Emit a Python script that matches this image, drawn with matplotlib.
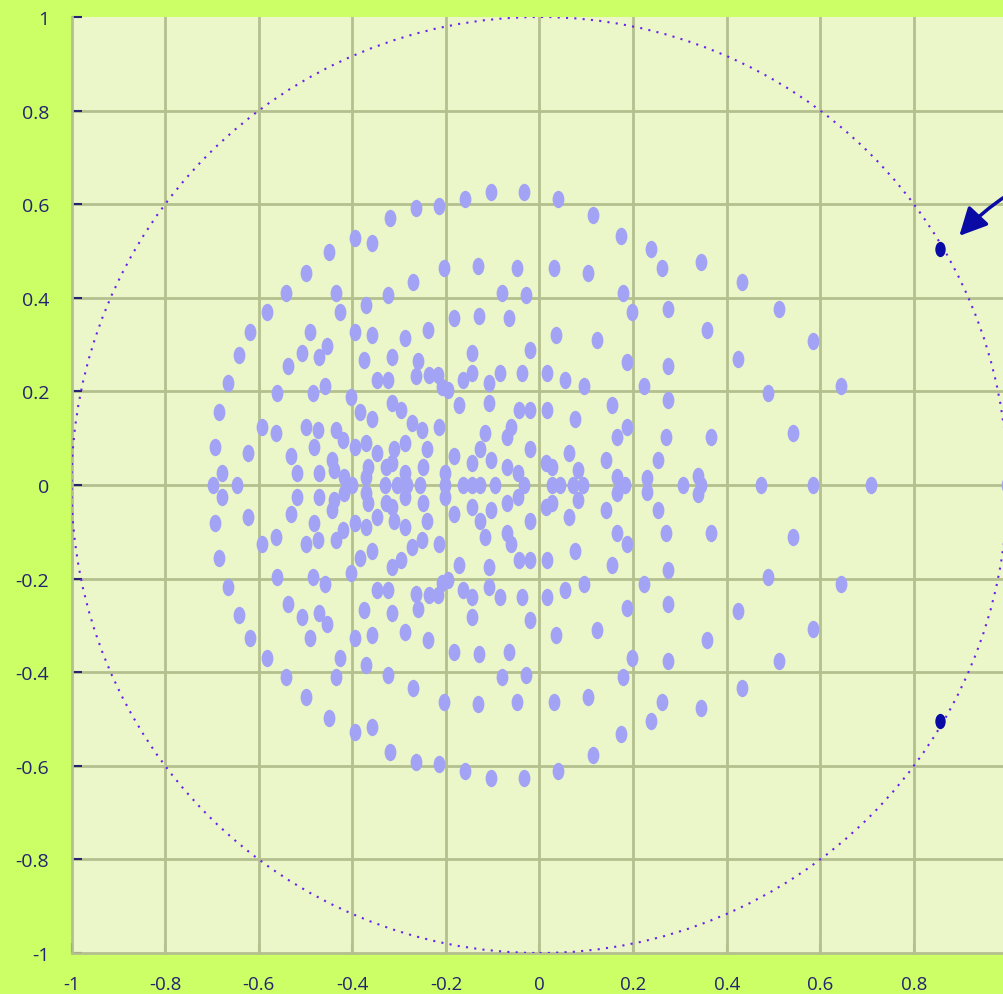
#!/usr/bin/env python3
"""
Pole/zero style scatter inside the unit circle.
"""

import matplotlib
matplotlib.use("Agg")
import matplotlib.pyplot as plt
import matplotlib.patches as mpatches
from matplotlib.path import Path
from matplotlib.transforms import Affine2D
import numpy as np

# Roots in the upper half plane (the lower half is the complex conjugate)
upper_re = [
    -0.159, -0.215, -0.264, -0.319, -0.394, -0.358, -0.450, -0.499, -0.542, -0.582,
    -0.619, -0.204, -0.131, -0.270, -0.324, -0.371, -0.435, -0.426, -0.183, -0.129,
    -0.238, -0.287, -0.358, -0.394, -0.490, -0.454, -0.507, -0.471, -0.537, -0.642,
    -0.666, -0.375, -0.315, -0.260, -0.264, -0.236, -0.217, -0.208, -0.196, -0.144,
    -0.144, -0.163, -0.172, -0.347, -0.324, -0.561, -0.484, -0.458, -0.403, -0.315,
    -0.296, -0.384, -0.358, -0.272, -0.251, -0.215, -0.685, -0.593, -0.563, -0.499,
    -0.473, -0.435, -0.420, -0.482, -0.394, -0.371, -0.347, -0.311, -0.287, -0.240,
    -0.183, -0.144, -0.127, -0.693, -0.623, -0.678, -0.531, -0.518, -0.471, -0.443,
    -0.439, -0.418, -0.371, -0.366, -0.328, -0.315, -0.287, -0.249, -0.202,
    -0.104, -0.033, 0.040, 0.114, 0.174, 0.238, 0.262, 0.345, 0.433, -0.048,
    0.031, 0.104, -0.080, -0.029, 0.178, -0.065, 0.198, 0.275, 0.035, 0.123,
    0.358,
    -0.020, -0.084, -0.037, -0.108, 0.016, 0.054, 0.095, 0.187, 0.275, 0.424,
    0.223, 0.275, -0.108, -0.044, -0.020, 0.016, 0.076, 0.155, 0.187, 0.166,
    0.270, 0.366, -0.116, -0.061, -0.069,
    -0.020, -0.104, -0.069, -0.046, 0.014, 0.027, 0.063, 0.082, 0.142, 0.166,
    0.230, 0.253, 0.339,
    0.512, 0.584, 0.488, 0.644, 0.542,
]
upper_im = [
    0.612, 0.597, 0.591, 0.570, 0.527, 0.518, 0.497, 0.454, 0.411, 0.369,
    0.326, 0.463, 0.469, 0.433, 0.405, 0.384, 0.411, 0.369, 0.356, 0.362,
    0.332, 0.315, 0.321, 0.326, 0.326, 0.298, 0.283, 0.274, 0.255, 0.277,
    0.219, 0.268, 0.274, 0.264, 0.232, 0.234, 0.236, 0.210, 0.204, 0.283,
    0.240, 0.225, 0.170, 0.225, 0.225, 0.197, 0.197, 0.212, 0.189, 0.176,
    0.161, 0.155, 0.140, 0.133, 0.118, 0.125, 0.155, 0.125, 0.112, 0.125,
    0.118, 0.118, 0.097, 0.082, 0.082, 0.090, 0.069, 0.076, 0.090, 0.076,
    0.061, 0.048, 0.076, 0.082, 0.069, 0.026, 0.061, 0.026, 0.026, 0.054,
    0.033, 0.018, 0.018, 0.039, 0.039, 0.048, 0.026, 0.039, 0.026,
    0.627, 0.627, 0.612, 0.576, 0.533, 0.505, 0.463, 0.476, 0.433, 0.463,
    0.463, 0.454, 0.411, 0.405, 0.411, 0.356, 0.369, 0.377, 0.321, 0.309,
    0.332,
    0.289, 0.240, 0.240, 0.219, 0.240, 0.225, 0.212, 0.262, 0.255, 0.270,
    0.212, 0.182, 0.176, 0.161, 0.161, 0.161, 0.140, 0.170, 0.125, 0.103,
    0.103, 0.103, 0.112, 0.125, 0.103,
    0.076, 0.054, 0.039, 0.026, 0.048, 0.039, 0.069, 0.033, 0.054, 0.018,
    0.016, 0.054, 0.020,
    0.377, 0.307, 0.197, 0.212, 0.112,
]

# Real roots
real_re = [
    -0.698, -0.646, -0.401, -0.330, -0.304, -0.283, -0.255, -0.202, -0.163, -0.144,
    -0.127, -0.095, -0.033, 0.027, 0.044, 0.072, 0.093, 0.183, 0.306, 0.345,
    0.473, 0.584, 0.708, 1.0,
]

# Highlighted pair on the unit circle
marked_re = [0.856, 0.856]
marked_im = [0.505, -0.505]

ticks = [-1, -0.8, -0.6, -0.4, -0.2, 0, 0.2, 0.4, 0.6, 0.8, 1]
tick_labels = ["-1", "-0.8", "-0.6", "-0.4", "-0.2", "0", "0.2", "0.4", "0.6", "0.8", "1"]

plt.rcParams['font.family'] = ['Open Sans', 'DejaVu Sans']

NAVY = '#24246e'
GRID = '#b4c08e'

# tall ellipse marker like in the original
ellipse = Path.unit_circle().transformed(Affine2D().scale(0.68, 1.0))

fig = plt.figure(figsize=(10.04, 9.95), dpi=100, facecolor='#ccff66')
ax = fig.add_axes([71.5 / 1004, 41 / 995, 936 / 1004, 936 / 995])
ax.set_facecolor('#ebf7c9')
ax.set_xlim(-1, 1)
ax.set_ylim(-1, 1)

ax.set_xticks(ticks)
ax.set_xticklabels(tick_labels[:-1] + [""])
ax.set_yticks(ticks)
ax.set_yticklabels(tick_labels)
ax.tick_params(axis='both', direction='in', length=7, width=1.5, color=NAVY,
               labelcolor=NAVY, labelsize=14)
ax.tick_params(axis='x', pad=16, labelsize=13.5)
ax.tick_params(axis='y', pad=16)

ax.grid(True, color=GRID, linewidth=2)
ax.yaxis.get_gridlines()[-1].set_visible(False)
ax.xaxis.get_gridlines()[0].set_visible(False)
ax.yaxis.get_gridlines()[0].set_visible(False)
# bottom ticks hide under the grid, only the corner one shows
for t in ax.xaxis.get_major_ticks()[1:]:
    t.tick1line.set_markeredgecolor(GRID)
for side in ['top', 'right']:
    ax.spines[side].set_visible(False)
for side in ['left', 'bottom']:
    ax.spines[side].set_color(GRID)
    ax.spines[side].set_linewidth(2)

# unit circle
ax.add_patch(mpatches.Circle((0, 0), 1, fill=False, edgecolor='#6a20f0',
                             linewidth=1.5, linestyle=(0, (1, 3)), zorder=3))

re = np.array(upper_re + upper_re + real_re)
im = np.array(upper_im + [-v for v in upper_im] + [0.0] * len(real_re))
ax.scatter(re, im, s=12.5 ** 2, marker=ellipse, color='#a3a3f5', linewidths=0,
           zorder=4, clip_on=False)

ax.scatter(marked_re, marked_im, s=11 ** 2, marker=ellipse, color='#0a0aa5',
           linewidths=0, zorder=5)

ax.annotate('', xy=(0.893, 0.528), xytext=(1.12, 0.68),
            arrowprops=dict(arrowstyle='-|>', color='#0a0aa5', lw=2.5,
                            mutation_scale=42,
                            connectionstyle='arc3,rad=0.12'),
            annotation_clip=False, zorder=6)

fig.savefig('out.png', dpi=100, facecolor=fig.get_facecolor())
